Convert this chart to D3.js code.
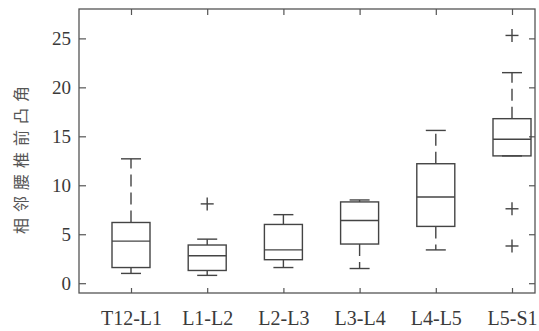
<!DOCTYPE html>
<meta charset="utf-8">
<html>
<head>
    <style>
        body { margin: 0; background: #fff; }
        .frame { fill: none; stroke: #555; stroke-width: 1.3px; }
        .axis path { display: none; }
        .axis line { stroke: #555; stroke-width: 1.2px; }
        .axis text { font-family: "Liberation Serif", "Times New Roman", serif; fill: #3a3a3a; }
        .box { fill: none; stroke: #444; stroke-width: 1.4px; }
        .whisker { stroke: #444; stroke-width: 1.4px; stroke-dasharray: 12,6; }
        .cap, .median, .outlier { stroke: #444; stroke-width: 1.4px; }
        .ylabel { font-family: "Noto Sans CJK SC", sans-serif; font-size: 16px; fill: #555; letter-spacing: 6px; }
    </style>
    <script src="https://cdn.jsdelivr.net/npm/d3@7"></script>
</head>
<body>
<div id="chart"></div>
<script>
    // segments of the spine
    const categories = ["T12-L1", "L1-L2", "L2-L3", "L3-L4", "L4-L5", "L5-S1"];
    const whiskerLow = [1.0, 0.8, 1.6, 1.5, 3.4, 13.0];
    const q1 = [1.6, 1.3, 2.4, 4.0, 5.8, 13.0];
    const medians = [4.3, 2.8, 3.4, 6.4, 8.8, 14.7];
    const q3 = [6.2, 3.9, 6.0, 8.3, 12.2, 16.8];
    const whiskerHigh = [12.7, 4.5, 7.0, 8.5, 15.6, 21.5];
    const outlierCats = ["L1-L2", "L5-S1", "L5-S1", "L5-S1"];
    const outlierValues = [8.1, 25.3, 7.6, 3.8];
    const yTicks = [0, 5, 10, 15, 20, 25];

    const W = 539, H = 331;
    const frame = {left: 79, right: 535, top: 9, bottom: 293};
    const boxW = 38, capW = 20, plus = 13;

    const svg = d3.select("#chart").append("svg")
        .attr("width", W)
        .attr("height", H);

    const x = d3.scalePoint()
        .domain(categories)
        .range([131, 512]);

    const y = d3.scaleLinear()
        .domain([-1, 28])
        .range([frame.bottom, frame.top]);

    const stats = categories.map((c, i) => ({
        cat: c, lo: whiskerLow[i], q1: q1[i], med: medians[i], q3: q3[i], hi: whiskerHigh[i]
    }));

    // axes, ticks pointing inward on all four sides
    svg.append("g")
        .attr("class", "axis")
        .attr("transform", "translate(" + frame.left + ",0)")
        .call(d3.axisLeft(y).tickValues(yTicks).tickSize(-7).tickPadding(8))
        .selectAll("text").style("font-size", "19px");

    svg.append("g")
        .attr("class", "axis")
        .attr("transform", "translate(" + frame.right + ",0)")
        .call(d3.axisRight(y).tickValues(yTicks).tickSize(-6).tickFormat(""));

    svg.append("g")
        .attr("class", "axis")
        .attr("transform", "translate(0," + frame.bottom + ")")
        .call(d3.axisBottom(x).tickSize(-5).tickPadding(18))
        .selectAll("text").style("font-size", "20px");

    svg.append("g")
        .attr("class", "axis")
        .attr("transform", "translate(0," + frame.top + ")")
        .call(d3.axisTop(x).tickSize(-6).tickFormat(""));

    svg.append("rect")
        .attr("class", "frame")
        .attr("x", frame.left)
        .attr("y", frame.top)
        .attr("width", frame.right - frame.left)
        .attr("height", frame.bottom - frame.top);

    const g = svg.selectAll(".boxplot")
        .data(stats)
        .enter().append("g")
        .attr("class", "boxplot");

    // whiskers
    g.append("line")
        .attr("class", "whisker")
        .attr("x1", d => x(d.cat)).attr("x2", d => x(d.cat))
        .attr("y1", d => y(d.q3)).attr("y2", d => y(d.hi));
    g.append("line")
        .attr("class", "whisker")
        .attr("x1", d => x(d.cat)).attr("x2", d => x(d.cat))
        .attr("y1", d => y(d.q1)).attr("y2", d => y(d.lo));

    g.append("line")
        .attr("class", "cap")
        .attr("x1", d => x(d.cat) - capW / 2).attr("x2", d => x(d.cat) + capW / 2)
        .attr("y1", d => y(d.hi)).attr("y2", d => y(d.hi));
    g.append("line")
        .attr("class", "cap")
        .attr("x1", d => x(d.cat) - capW / 2).attr("x2", d => x(d.cat) + capW / 2)
        .attr("y1", d => y(d.lo)).attr("y2", d => y(d.lo));

    g.append("rect")
        .attr("class", "box")
        .attr("x", d => x(d.cat) - boxW / 2)
        .attr("y", d => y(d.q3))
        .attr("width", boxW)
        .attr("height", d => y(d.q1) - y(d.q3));

    g.append("line")
        .attr("class", "median")
        .attr("x1", d => x(d.cat) - boxW / 2).attr("x2", d => x(d.cat) + boxW / 2)
        .attr("y1", d => y(d.med)).attr("y2", d => y(d.med));

    // outliers as "+"
    const out = svg.selectAll(".out")
        .data(outlierValues.map((v, i) => ({cat: outlierCats[i], v: v})))
        .enter().append("g")
        .attr("class", "out")
        .attr("transform", d => "translate(" + x(d.cat) + "," + y(d.v) + ")");
    out.append("line").attr("class", "outlier")
        .attr("x1", -plus / 2).attr("x2", plus / 2).attr("y1", 0).attr("y2", 0);
    out.append("line").attr("class", "outlier")
        .attr("x1", 0).attr("x2", 0).attr("y1", -plus / 2).attr("y2", plus / 2);

    svg.append("text")
        .attr("class", "ylabel")
        .attr("transform", "translate(27,157) rotate(-90)")
        .style("text-anchor", "middle")
        .text("相邻腰椎前凸角");
</script>
</body>
</html>
